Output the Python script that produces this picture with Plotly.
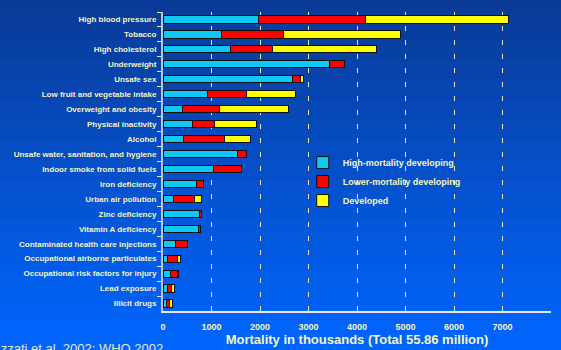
import plotly.graph_objects as go

categories = [
    "High blood pressure", "Tobacco", "High cholesterol", "Underweight", "Unsafe sex",
    "Low fruit and vegetable intake", "Overweight and obesity", "Physical inactivity",
    "Alcohol", "Unsafe water, sanitation, and hygiene", "Indoor smoke from solid fuels",
    "Iron deficiency", "Urban air pollution", "Zinc deficiency", "Vitamin A deficiency",
    "Contaminated health care injections", "Occupational airborne particulates",
    "Occupational risk factors for injury", "Lead exposure", "Illicit drugs",
]
high_mortality = [1970, 1210, 1400, 3430, 2670, 925, 400, 600, 425, 1535, 1035,
                  685, 220, 750, 735, 265, 95, 150, 95, 70]
lower_mortality = [2210, 1270, 850, 310, 170, 795, 770, 470, 850, 190, 575,
                   150, 430, 50, 40, 240, 205, 140, 70, 55]
developed = [2950, 2420, 2150, 0, 50, 1010, 1410, 850, 530, 0, 0,
             0, 150, 0, 0, 0, 60, 30, 75, 70]
series_names = ["High-mortality developing", "Lower-mortality developing", "Developed"]
series_colors = ["#0fc8f5", "#ff0000", "#ffff00"]
x_ticks = [0, 1000, 2000, 3000, 4000, 5000, 6000, 7000, 8000]

TXT = "#f4f4c0"
fig = go.Figure()
for name, vals, col in zip(series_names, [high_mortality, lower_mortality, developed], series_colors):
    fig.add_trace(go.Bar(
        y=categories, x=vals, name=name, orientation="h",
        marker=dict(color=col, line=dict(color="#101010", width=1)),
    ))

W, H = 561, 350
L, R, T, B = 163, 10, 12, 39
pw, ph = W - L - R, H - T - B

# vertical gradient background
shapes = []
n = 35
top = (10, 58, 150)
bot = (0, 102, 255)
for i in range(n):
    p0 = i * H / n
    p1 = (i + 1) * H / n
    f = (i + 0.5) / n
    c = tuple(int(round(top[k] + (bot[k] - top[k]) * f)) for k in range(3))
    shapes.append(dict(
        type="rect", xref="paper", yref="paper", layer="below",
        x0=-1, x1=2, y0=(H - B - p1) / ph, y1=(H - B - p0) / ph + 0.002,
        fillcolor="rgb(%d,%d,%d)" % c, line=dict(width=0),
    ))

fig.update_layout(
    width=W, height=H,
    margin=dict(l=L, r=R, t=T, b=B, autoexpand=False),
    paper_bgcolor="rgb(10,80,200)",
    plot_bgcolor="rgba(0,0,0,0)",
    barmode="stack",
    bargap=0.52,
    shapes=shapes,
    font=dict(family="Liberation Sans, Arial", color=TXT),
    xaxis=dict(
        range=[0, 8000], tickvals=x_ticks, ticktext=[str(v) for v in x_ticks],
        showgrid=True, gridcolor="#e6e6cc", griddash="5px,9px", gridwidth=1,
        showline=True, linecolor="#e8e8e8", linewidth=1.5,
        zeroline=False, ticks="", ticklen=0, automargin=False,
        tickfont=dict(size=9, color=TXT, weight="bold"),
        ticklabelstandoff=6,
        title=dict(text="Mortality in thousands (Total 55.86 million)",
                   font=dict(size=13, color=TXT, weight="bold"), standoff=3),
    ),
    yaxis=dict(
        autorange="reversed", showgrid=False, zeroline=False, automargin=False,
        showline=True, linecolor="#b8c4d8", linewidth=2,
        ticks="outside", ticklen=4, tickcolor="#e8e8a0", tickson="boundaries",
        tickfont=dict(size=8, color=TXT, weight="bold"),
        ticklabelstandoff=3,
    ),
    legend=dict(
        x=0.36, y=0.545, xanchor="left", yanchor="top",
        bgcolor="rgba(0,0,0,0)", traceorder="normal",
        font=dict(size=9, color=TXT, weight="bold"),
        itemwidth=30, tracegroupgap=0,
    ),
    annotations=[dict(
        text="Ezzati et al. 2002; WHO 2002", xref="paper", yref="paper",
        x=(-10 - L) / pw, y=(H - B - 339) / ph, xanchor="left", yanchor="top",
        showarrow=False, font=dict(size=13, color="#e8e8c0"),
    )],
)

fig.write_html("out.html")
